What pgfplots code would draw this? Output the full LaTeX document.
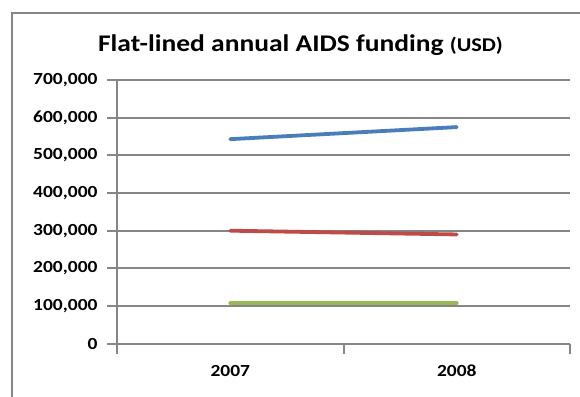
\documentclass[border=0pt]{standalone}
\usepackage{pgfplots}
\pgfplotsset{compat=1.18}
\usepackage{fontspec}
\setmainfont{Carlito}[FakeStretch=1.15]
\definecolor{serBlue}{HTML}{4A7EBB}
\definecolor{serRed}{HTML}{BE4B48}
\definecolor{serGreen}{HTML}{98B954}
\definecolor{frameGray}{HTML}{868686}
\begin{document}
\begin{tikzpicture}[x=1bp,y=1bp]
\clip (0,0) rectangle (580,396);
% chart frame
\draw[frameGray, line width=1.5bp] (12,-20) rectangle (600,383);
% title
\node[anchor=base, font=\bfseries] at (300.5,344.3)
  {\fontsize{24}{28}\selectfont Flat-lined annual AIDS funding \fontsize{19.5}{23}\selectfont(USD)};
\begin{axis}[
  at={(117bp,52.3bp)}, anchor=south west,
  scale only axis, width=453bp, height=263.7bp,
  xmin=0, xmax=2, ymin=0, ymax=700000,
  axis x line*=bottom, axis y line*=left,
  axis line style={frameGray, line width=2bp, -},
  tick align=outside,
  tick style={frameGray, line width=2bp},
  ytick={0,100000,200000,300000,400000,500000,600000,700000},
  yticklabels={0,{100,000},{200,000},{300,000},{400,000},{500,000},{600,000},{700,000}},
  yticklabel style={xshift=-6bp},
  ymajorgrids, grid style={frameGray, line width=2bp},
  major tick length=10bp,
  xtick={0,1,2}, xticklabels={},
  extra x ticks={0.5,1.5},
  extra x tick labels={2007,2008},
  extra x tick style={major tick length=0pt, grid=none,
    tick style={draw=none},
    xticklabel style={yshift=-18bp}},
  scaled y ticks=false,
  ticklabel style={font=\bfseries\fontsize{17}{20}\selectfont},
  clip=false,
]
\addplot[serBlue, line width=3.8bp, line cap=round] coordinates {(0.5,543000) (1.5,575000)};
\addplot[serRed, line width=3.8bp, line cap=round] coordinates {(0.5,300000) (1.5,290000)};
\addplot[serGreen, line width=3.8bp, line cap=round] coordinates {(0.5,107000) (1.5,107000)};
\end{axis}
\end{tikzpicture}
\end{document}
